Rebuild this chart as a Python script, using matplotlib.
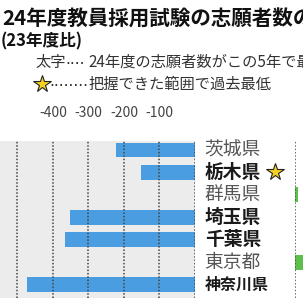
import numpy as np
import matplotlib
matplotlib.use("Agg")
import matplotlib.pyplot as plt

plt.rcParams['font.family'] = ['Noto Sans CJK JP', 'DejaVu Sans']

# data (change in applicants vs FY2023)
prefs = ["茨城県", "栃木県", "群馬県", "埼玉県", "千葉県", "東京都", "神奈川県"]
values = [-222, -151, 8, -351, -365, 45, -472]
bold = [False, True, False, True, True, False, True]
lowest = [False, True, False, False, False, False, False]
tick_vals = [-500, -400, -300, -200, -100, 0]
tick_labels = ["", "-400", "-300", "-200", "-100", ""]

W, H = 303, 304
fig = plt.figure(figsize=(W / 100, H / 100), dpi=100)

def fx(px):
    return px / W

def fy(py):
    return 1 - py / H

blue = "#4a9de0"
green = "#5cc04a"
y = np.arange(len(prefs))

# left panel: decreases
ax = fig.add_axes([0, fy(298), fx(195), (298 - 141) / H])
ax.set_facecolor("#ececec")
ax.barh(y, values, height=0.66, color=blue, zorder=1)
ax.set_xlim(-549, 0)
ax.set_ylim(6.6, -0.4)
ax.set_xticks(tick_vals)
ax.set_xticklabels(tick_labels)
ax.xaxis.tick_top()
ax.tick_params(axis='x', length=0, pad=15, labelsize=10, labelcolor="#444")
ax.set_yticks([])
ax.grid(axis='x', linestyle=(0, (1, 1.2)), color="#444", lw=1.1, zorder=3)
ax.set_axisbelow(False)
for s in ax.spines.values():
    s.set_visible(False)

# right panel: increases (cropped at figure edge)
ax2 = fig.add_axes([fx(295), fy(298), fx(60), (298 - 141) / H])
ax2.barh(y, values, height=0.66, color=green, zorder=1)
ax2.set_xlim(0, 169)
ax2.set_ylim(6.6, -0.4)
ax2.set_xticks([0])
ax2.set_xticklabels([""])
ax2.tick_params(length=0)
ax2.set_yticks([])
ax2.grid(axis='x', linestyle=(0, (1, 1.2)), color="#444", lw=1.1, zorder=3)
ax2.set_axisbelow(False)
for s in ax2.spines.values():
    s.set_visible(False)

star = dict(marker='*', markersize=13, markerfacecolor="#f5d020",
            markeredgecolor="#222", markeredgewidth=0.8)

# prefecture labels between panels
for i, name in enumerate(prefs):
    size = 11.5 if len(name) > 3 else 13.5
    ax.annotate(name, xy=(1, i), xycoords=('axes fraction', 'data'),
                xytext=(7, 0), textcoords='offset points',
                ha='left', va='center', fontsize=size,
                fontweight='bold' if bold[i] else 'normal',
                color="#1a1a1a" if bold[i] else "#555555",
                annotation_clip=False)
    if lowest[i]:
        ax.plot([fx(275) / fx(195)], [i], transform=ax.get_yaxis_transform(),
                clip_on=False, **star)

# title
fig.text(fx(2), fy(19), "24年度教員採用試験の志願者数の変化", fontsize=14.8,
         fontweight='bold', ha='left', va='center', color="#111")
fig.text(fx(1), fy(41), "(23年度比)", fontsize=12,
         fontweight='bold', ha='left', va='center', color="#111")

# legend notes
fig.text(fx(36), fy(62), "太字", fontsize=11, ha='left', va='center', color="#333")
fig.text(fx(65), fy(64), "····", fontsize=11, family='DejaVu Sans',
         ha='left', va='center', color="#333")
fig.text(fx(88), fy(62), "24年度の志願者数がこの5年で最少", fontsize=11,
         ha='left', va='center', color="#333")
fig.lines.append(plt.Line2D([fx(42)], [fy(84)], transform=fig.transFigure, **star))
fig.text(fx(49), fy(86), "········", fontsize=11, family='DejaVu Sans',
         ha='left', va='center', color="#333")
fig.text(fx(88), fy(84), "把握できた範囲で過去最低", fontsize=11,
         ha='left', va='center', color="#333")

fig.savefig("out.png", dpi=100)
